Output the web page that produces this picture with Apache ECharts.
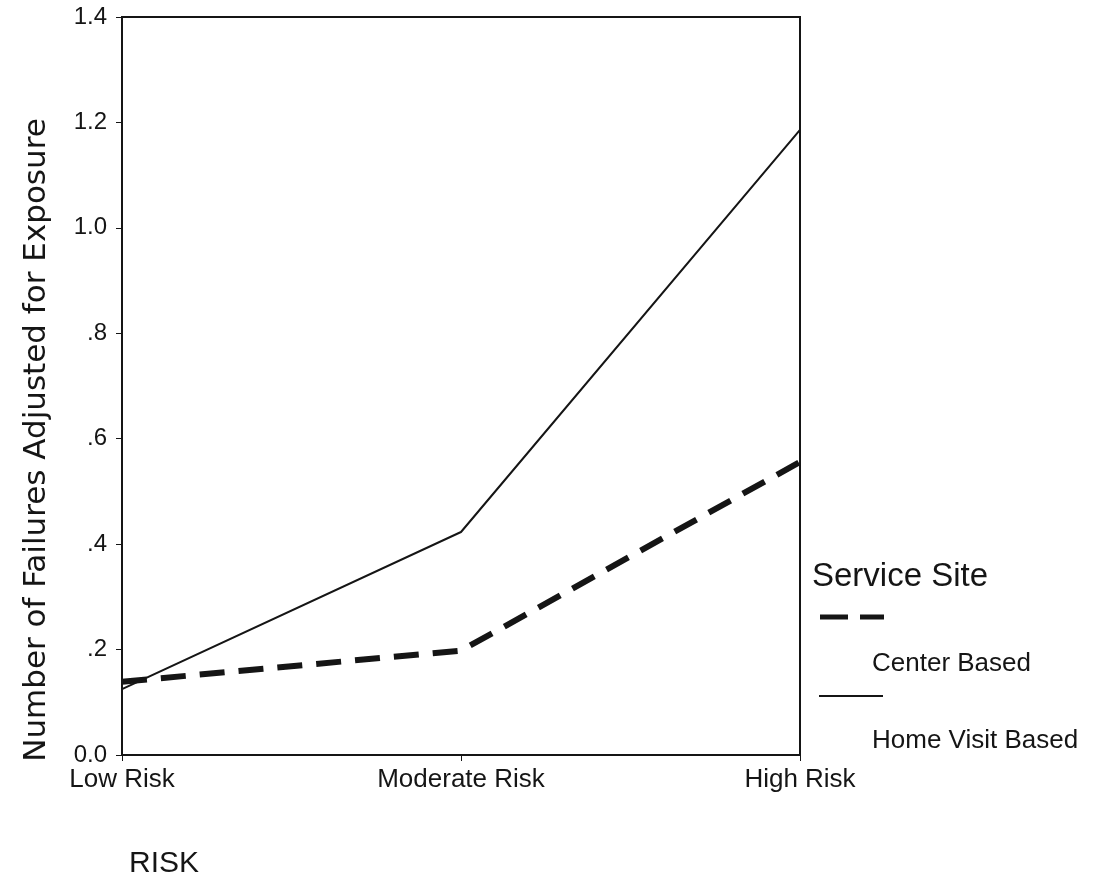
<!DOCTYPE html>
<html>
<head>
<meta charset="utf-8">
<script src="https://cdn.jsdelivr.net/npm/echarts@6/dist/echarts.min.js"></script>
<style>
  html, body { margin: 0; padding: 0; background: #fff; }
  #chart { width: 1095px; height: 885px; }
</style>
</head>
<body>
<div id="chart"></div>
<script>
const riskLevels = ['Low Risk', 'Moderate Risk', 'High Risk'];
const centerBased = [0.139, 0.198, 0.556];
const homeVisitBased = [0.125, 0.423, 1.186];
const yTicks = [0, 0.2, 0.4, 0.6, 0.8, 1.0, 1.2, 1.4];

document.addEventListener('DOMContentLoaded', function() {
  const chart = echarts.init(document.getElementById('chart'));
  const font = '"Liberation Sans", Arial, sans-serif';
  const wideFont = '"DejaVu Sans", sans-serif';
  const ink = '#151515';

  const option = {
    animation: false,
    backgroundColor: '#fff',
    grid: {
      left: 122, right: 295, top: 17, bottom: 130,
      show: true, borderColor: ink, borderWidth: 2
    },
    xAxis: {
      type: 'category',
      data: riskLevels,
      boundaryGap: false,
      axisLine: { lineStyle: { color: ink, width: 2 } },
      axisTick: { alignWithLabel: true, length: 6, lineStyle: { color: ink } },
      axisLabel: { color: ink, fontFamily: font, fontSize: 26, margin: 12 },
      splitLine: { show: false }
    },
    yAxis: {
      type: 'value',
      min: yTicks[0],
      max: yTicks[yTicks.length - 1],
      interval: 0.2,
      axisLine: { show: true, lineStyle: { color: ink, width: 2 } },
      axisTick: { show: true, length: 6, lineStyle: { color: ink } },
      axisLabel: {
        color: ink, fontFamily: font, fontSize: 24, margin: 15,
        formatter: function(v) {
          const s = v.toFixed(1);
          return (v > 0 && v < 1) ? s.slice(1) : s;
        }
      },
      splitLine: { show: false }
    },
    graphic: [
      {
        type: 'text', x: 37, y: 440, rotation: Math.PI / 2,
        style: {
          text: 'Number of Failures Adjusted for Exposure',
          font: '31px ' + wideFont, fill: ink, align: 'center', verticalAlign: 'middle'
        }
      },
      {
        type: 'text', x: 129, y: 864,
        style: { text: 'RISK', font: '30px ' + font, fill: ink, verticalAlign: 'middle' }
      },
      {
        type: 'text', x: 812, y: 577,
        style: { text: 'Service Site', font: '33px ' + font, fill: ink, verticalAlign: 'middle' }
      },
      {
        type: 'line', shape: { x1: 820, y1: 617, x2: 884, y2: 617 },
        style: { stroke: ink, lineWidth: 5, lineDash: [28, 12] }
      },
      {
        type: 'text', x: 872, y: 664,
        style: { text: 'Center Based', font: '26px ' + font, fill: ink, verticalAlign: 'middle' }
      },
      {
        type: 'line', shape: { x1: 819, y1: 696, x2: 883, y2: 696 },
        style: { stroke: ink, lineWidth: 2 }
      },
      {
        type: 'text', x: 872, y: 741,
        style: { text: 'Home Visit Based', font: '26px ' + font, fill: ink, verticalAlign: 'middle' }
      }
    ],
    series: [
      {
        name: 'Center Based',
        type: 'line',
        data: centerBased,
        symbol: 'none',
        lineStyle: { color: ink, width: 6, type: [25, 14] }
      },
      {
        name: 'Home Visit Based',
        type: 'line',
        data: homeVisitBased,
        symbol: 'none',
        lineStyle: { color: ink, width: 2 }
      }
    ]
  };
  chart.setOption(option);
});
</script>
</body>
</html>
